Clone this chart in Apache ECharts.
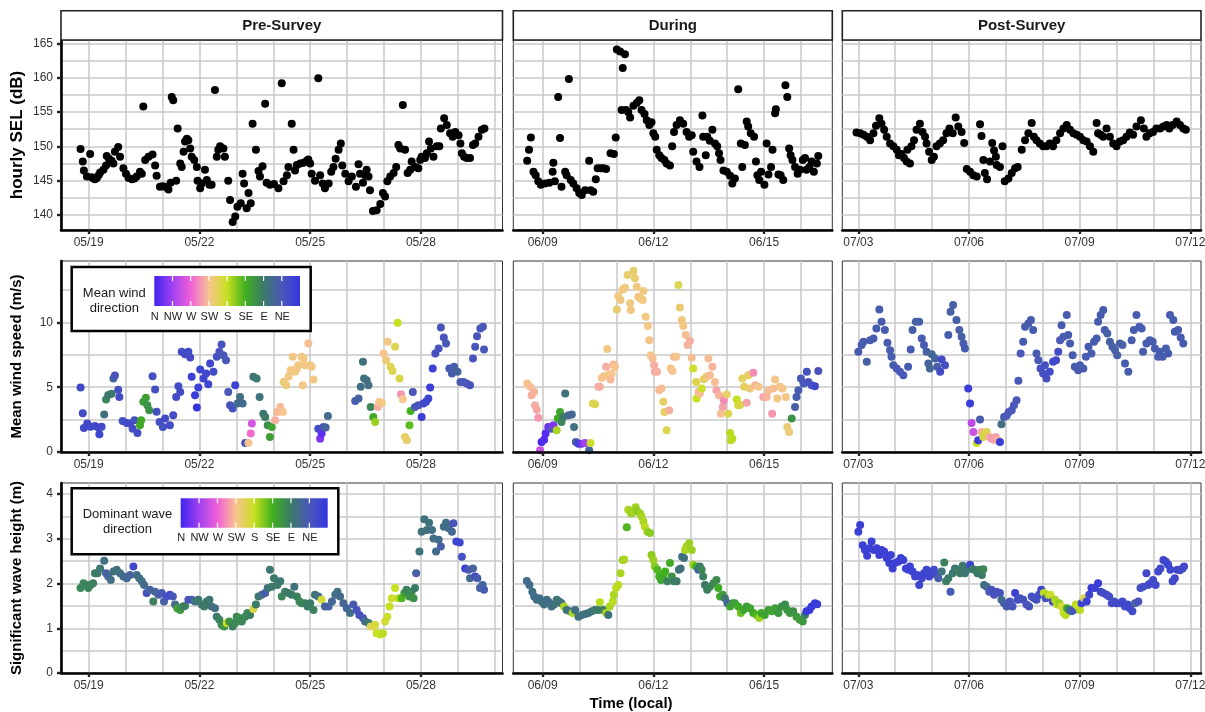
<!DOCTYPE html>
<html><head><meta charset="utf-8">
<script src="https://cdn.jsdelivr.net/npm/echarts@6/dist/echarts.min.js"></script>
<style>html,body{margin:0;padding:0;background:#fff}#c{width:1205px;height:712px}</style>
</head><body><div id="c"></div>
<script>
// ---------- labels ----------
const periods = ['Pre-Survey', 'During', 'Post-Survey'];
const preTicks = ['05/19', '05/22', '05/25', '05/28'];
const duringTicks = ['06/09', '06/12', '06/15'];
const postTicks = ['07/03', '07/06', '07/09', '07/12'];
const dirLabels = ['N', 'NW', 'W', 'SW', 'S', 'SE', 'E', 'NE'];
const selTicks = [140, 145, 150, 155, 160, 165];
const windTicks = [0, 5, 10];
const waveTicks = [0, 1, 2, 3, 4];
const yTitles = ['hourly SEL (dB)', 'Mean wind speed (m/s)', 'Significant wave height (m)'];
const xTitle = 'Time (local)';
const windLegendTitle = 'Mean wind\ndirection';
const waveLegendTitle = 'Dominant wave\ndirection';

// ---------- data: [days since first tick date, value] ----------
const selPre = [[-0.22,149.6],[-0.16,147.8],[-0.13,146.5],[-0.05,145.6],[0.04,148.9],[0.08,145.5],[0.13,145.3],[0.17,145.2],[0.22,145.4],[0.27,145.8],[0.31,146.2],[0.40,146.6],[0.47,147.2],[0.49,148.6],[0.55,148.2],[0.62,147.9],[0.67,147.5],[0.71,149.2],[0.80,149.9],[0.85,148.5],[0.94,146.8],[1.01,146.0],[1.08,145.4],[1.17,145.2],[1.24,145.3],[1.30,145.6],[1.39,146.3],[1.44,146.0],[1.48,155.8],[1.53,148.0],[1.62,148.5],[1.73,148.8],[1.80,147.2],[1.84,145.7],[1.93,144.1],[2.00,144.2],[2.07,144.1],[2.16,143.7],[2.22,144.7],[2.25,157.2],[2.29,156.7],[2.37,145.0],[2.41,152.6],[2.48,147.5],[2.52,147.0],[2.57,149.2],[2.61,150.7],[2.66,151.1],[2.70,150.9],[2.75,149.7],[2.79,148.5],[2.86,148.0],[2.93,147.0],[2.95,145.0],[3.02,143.9],[3.06,144.6],[3.15,146.6],[3.20,145.1],[3.27,144.4],[3.33,144.4],[3.42,158.2],[3.47,148.5],[3.51,149.5],[3.56,150.0],[3.65,149.7],[3.69,148.5],[3.78,145.0],[3.83,142.2],[3.90,139.0],[3.97,139.8],[4.03,141.2],[4.12,141.7],[4.17,146.0],[4.21,144.6],[4.28,141.0],[4.33,143.2],[4.39,141.7],[4.44,153.3],[4.53,149.5],[4.60,146.4],[4.64,145.6],[4.71,147.1],[4.78,156.2],[4.82,144.7],[4.91,144.4],[5.02,144.5],[5.14,143.9],[5.23,159.2],[5.28,144.9],[5.37,145.8],[5.41,147.0],[5.50,153.3],[5.55,149.5],[5.59,146.5],[5.64,147.3],[5.73,147.5],[5.82,147.6],[5.91,147.9],[5.95,148.1],[6.00,147.5],[6.04,146.0],[6.13,145.0],[6.22,159.9],[6.27,145.8],[6.34,144.6],[6.40,143.9],[6.50,144.6],[6.57,146.3],[6.63,147.0],[6.69,148.2],[6.77,149.5],[6.83,150.4],[6.87,147.2],[6.95,146.0],[7.04,144.9],[7.13,145.6],[7.24,144.1],[7.31,147.4],[7.35,146.0],[7.43,144.7],[7.49,145.8],[7.53,146.6],[7.58,145.6],[7.62,143.6],[7.70,140.6],[7.80,140.7],[7.90,141.6],[7.97,143.2],[8.03,142.7],[8.09,144.9],[8.17,145.6],[8.26,146.1],[8.33,147.0],[8.39,150.2],[8.44,149.7],[8.51,156.0],[8.57,149.5],[8.64,146.1],[8.71,146.6],[8.75,147.8],[8.84,147.0],[8.93,146.8],[8.98,148.0],[9.02,148.5],[9.11,148.3],[9.16,149.0],[9.22,150.7],[9.27,149.7],[9.34,148.5],[9.43,150.0],[9.50,150.0],[9.54,152.6],[9.63,154.1],[9.70,153.1],[9.79,151.9],[9.86,151.4],[9.93,152.1],[10.02,151.6],[10.07,150.4],[10.11,149.0],[10.17,148.5],[10.24,148.3],[10.33,148.3],[10.41,150.2],[10.47,150.4],[10.56,151.4],[10.65,152.4],[10.72,152.6]];
const selDuring = [[-0.42,147.9],[-0.37,149.5],[-0.32,151.3],[-0.25,146.3],[-0.19,145.8],[-0.12,144.9],[-0.05,144.4],[0.06,144.6],[0.18,144.7],[0.27,146.3],[0.29,147.6],[0.33,144.9],[0.42,157.2],[0.47,151.2],[0.51,144.1],[0.61,146.3],[0.65,145.8],[0.71,159.8],[0.76,145.1],[0.83,144.6],[0.92,143.9],[0.99,143.2],[1.06,142.9],[1.15,143.6],[1.26,147.9],[1.30,143.6],[1.37,143.4],[1.44,145.2],[1.49,146.8],[1.58,146.8],[1.65,146.8],[1.72,146.7],[1.84,149.0],[1.93,148.9],[1.98,151.3],[2.01,164.1],[2.10,163.8],[2.17,161.4],[2.23,163.4],[2.14,155.3],[2.26,155.3],[2.32,155.0],[2.37,154.2],[2.46,155.9],[2.55,156.3],[2.62,156.7],[2.68,155.3],[2.76,154.7],[2.82,153.8],[2.89,153.1],[2.95,153.5],[3.00,151.9],[3.05,151.4],[3.09,149.5],[3.16,148.7],[3.22,148.3],[3.30,148.0],[3.36,147.5],[3.45,147.2],[3.51,150.0],[3.56,152.1],[3.63,153.1],[3.72,153.8],[3.81,153.3],[3.90,152.1],[3.97,151.4],[4.04,151.6],[4.08,149.2],[4.17,147.8],[4.25,147.0],[4.33,154.5],[4.35,151.4],[4.42,148.7],[4.46,151.4],[4.53,150.8],[4.60,152.4],[4.67,150.4],[4.73,150.0],[4.78,149.0],[4.82,148.0],[4.90,146.5],[4.99,146.3],[5.08,145.7],[5.14,144.6],[5.21,145.3],[5.30,158.3],[5.37,150.4],[5.41,147.0],[5.48,150.2],[5.53,153.6],[5.57,152.9],[5.64,151.9],[5.73,151.4],[5.78,147.8],[5.82,145.8],[5.87,145.1],[5.92,146.3],[6.01,144.4],[6.07,150.4],[6.12,145.9],[6.19,147.0],[6.23,149.5],[6.30,154.8],[6.32,155.4],[6.39,145.9],[6.45,145.8],[6.52,145.1],[6.58,158.9],[6.63,157.2],[6.68,149.7],[6.72,148.7],[6.77,148.0],[6.84,147.0],[6.91,146.0],[6.97,146.6],[7.05,148.0],[7.11,148.3],[7.15,146.6],[7.23,147.0],[7.29,147.8],[7.35,146.3],[7.43,147.5],[7.47,148.6]];
const selPost = [[-0.05,152.0],[0.05,151.9],[0.14,151.7],[0.23,151.4],[0.32,150.9],[0.41,151.9],[0.48,153.0],[0.57,154.1],[0.63,153.3],[0.70,152.4],[0.77,151.4],[0.86,150.4],[0.95,150.0],[1.04,149.5],[1.10,148.7],[1.17,148.9],[1.24,148.3],[1.31,147.8],[1.40,147.5],[1.33,149.5],[1.44,150.0],[1.51,150.9],[1.58,152.4],[1.67,153.3],[1.74,152.1],[1.81,151.4],[1.85,150.4],[1.92,149.2],[1.99,148.0],[2.05,148.5],[2.12,150.0],[2.21,150.4],[2.30,150.9],[2.39,151.9],[2.47,152.6],[2.56,151.9],[2.64,154.2],[2.71,152.9],[2.80,152.1],[2.87,150.5],[2.94,146.7],[3.03,146.3],[3.12,145.8],[3.21,145.6],[3.30,153.2],[3.34,151.5],[3.39,148.0],[3.43,146.1],[3.49,145.2],[3.57,147.8],[3.63,150.5],[3.68,149.4],[3.73,148.5],[3.75,147.3],[3.84,147.0],[3.91,150.0],[3.97,144.9],[4.07,145.3],[4.16,146.1],[4.25,146.8],[4.32,147.0],[4.43,149.5],[4.52,150.9],[4.61,151.9],[4.70,153.4],[4.76,151.4],[4.83,150.9],[4.92,150.4],[5.01,150.0],[5.10,150.0],[5.19,150.4],[5.28,150.0],[5.37,150.9],[5.47,151.9],[5.56,152.6],[5.65,153.1],[5.74,152.4],[5.83,151.9],[5.92,151.7],[6.01,151.4],[6.10,150.9],[6.19,150.7],[6.28,150.0],[6.37,149.2],[6.46,153.4],[6.50,151.9],[6.57,151.7],[6.64,151.4],[6.73,152.6],[6.82,151.4],[6.91,150.4],[7.00,150.0],[7.09,150.7],[7.18,150.9],[7.27,151.4],[7.36,152.0],[7.45,151.7],[7.54,152.9],[7.66,153.8],[7.74,152.6],[7.81,151.4],[7.90,151.9],[7.99,152.1],[8.08,152.6],[8.18,152.6],[8.27,152.9],[8.36,153.1],[8.43,152.6],[8.52,153.1],[8.63,153.6],[8.72,153.1],[8.81,152.6],[8.88,152.4]];

// ---------- data: [days, speed m/s, direction deg (-1 = missing)] ----------
const windPre = [[-0.22,4.97,25],[-0.16,3.0,30],[-0.13,1.86,25],[-0.04,2.2,25],[0.05,1.95,25],[0.17,2.0,25],[0.26,1.9,25],[0.35,1.95,25],[0.29,1.37,20],[0.42,2.9,80],[0.47,4.05,100],[0.53,4.4,85],[0.62,4.5,90],[0.67,5.67,60],[0.71,5.9,40],[0.80,4.8,35],[0.83,4.25,30],[0.92,2.4,35],[1.03,2.24,30],[1.12,2.2,30],[1.19,1.8,30],[1.24,2.45,35],[1.32,1.47,30],[1.39,2.06,130],[1.42,2.45,130],[1.48,3.87,120],[1.55,4.18,120],[1.59,3.6,110],[1.64,3.22,110],[1.73,5.85,35],[1.80,4.82,35],[1.84,3.1,35],[1.92,2.32,35],[2.01,1.93,35],[2.07,2.58,30],[2.20,2.06,30],[2.29,2.84,30],[2.37,4.25,30],[2.43,5.08,30],[2.48,4.64,30],[2.52,7.73,30],[2.61,7.55,30],[2.70,7.73,30],[2.75,7.3,30],[2.79,5.8,15],[2.88,4.38,10],[2.93,3.43,-1],[2.97,4.97,15],[3.02,6.37,20],[3.11,5.67,20],[3.18,6.06,25],[3.24,5.23,20],[3.29,6.83,25],[3.38,6.19,30],[3.47,7.35,35],[3.54,7.73,40],[3.60,8.3,40],[3.65,7.47,45],[3.72,7.09,45],[3.78,4.64,45],[3.83,3.6,40],[3.90,3.35,35],[3.97,5.15,15],[4.03,3.74,70],[4.10,4.25,75],[4.17,3.74,70],[4.24,0.7,40],[4.33,0.7,225],[4.39,1.42,265],[4.42,2.19,285],[4.46,5.8,85],[4.55,5.67,85],[4.63,4.25,80],[4.73,2.96,85],[4.78,2.7,90],[4.85,2.06,105],[4.91,1.16,120],[4.96,1.93,125],[5.05,2.45,235],[5.11,3.09,230],[5.19,3.48,230],[5.26,3.09,225],[5.28,5.41,215],[5.35,5.15,215],[5.41,5.8,220],[5.47,6.31,220],[5.53,7.35,220],[5.59,6.19,220],[5.64,6.44,220],[5.68,6.7,220],[5.77,7.35,220],[5.82,7.22,220],[5.80,5.15,220],[5.86,6.7,220],[5.95,8.38,228],[6.0,6.7,220],[6.04,6.57,220],[6.09,5.59,220],[6.22,1.8,30],[6.27,1.03,330],[6.31,1.42,345],[6.36,1.93,40],[6.42,1.9,60],[6.48,2.78,70],[7.22,3.94,50],[7.31,4.12,60],[7.37,5.03,75],[7.43,6.96,80],[7.46,5.67,80],[7.53,5.54,75],[7.58,5.15,75],[7.64,3.48,100],[7.71,2.7,130],[7.76,2.32,165],[7.83,3.48,235],[7.87,3.87,225],[7.94,3.79,220],[7.99,7.6,225],[8.06,7.09,215],[8.10,8.5,220],[8.18,6.57,200],[8.23,6.26,200],[8.30,8.12,200],[8.37,9.97,180],[8.42,5.67,195],[8.46,4.46,245],[8.51,4.07,225],[8.57,1.16,205],[8.62,0.9,210],[8.69,2.06,145],[8.72,3.17,135],[8.78,4.64,45],[8.84,3.48,45],[8.93,3.6,40],[9.02,2.7,15],[9.07,3.74,25],[9.14,3.87,25],[9.20,4.12,20],[9.25,4.97,10],[9.32,6.44,15],[9.39,7.6,35],[9.48,7.99,40],[9.54,9.61,40],[9.62,8.84,40],[9.68,8.38,45],[9.77,6.44,45],[9.84,6.06,50],[9.90,6.57,55],[9.99,6.19,60],[10.07,5.41,50],[10.15,5.41,45],[10.24,5.28,45],[10.33,5.15,40],[10.41,7.22,40],[10.47,8.12,40],[10.52,8.94,40],[10.61,9.54,40],[10.68,9.66,45],[10.71,7.91,45]];
const windDuring = [[-0.42,5.28,225],[-0.34,5.03,228],[-0.30,4.38,235],[-0.23,4.64,232],[-0.21,3.6,235],[-0.16,3.27,238],[-0.12,2.65,245],[-0.07,0.13,290],[-0.03,0.77,355],[0.04,0.95,350],[0.08,1.42,350],[0.15,1.93,340],[0.24,1.8,45],[0.29,2.06,330],[0.38,1.68,170],[0.41,2.58,130],[0.47,3.09,125],[0.51,2.32,100],[0.56,2.7,90],[0.61,4.51,80],[0.70,2.84,70],[0.79,2.89,65],[0.85,1.93,75],[0.90,0.77,55],[0.97,0.64,20],[1.06,0.64,335],[1.15,0.7,310],[1.26,0.13,60],[1.30,0.7,185],[1.36,3.74,200],[1.42,3.69,200],[1.51,5.03,235],[1.55,5.03,235],[1.60,5.72,225],[1.66,5.85,225],[1.72,6.57,235],[1.75,7.94,220],[1.81,5.98,215],[1.84,5.59,230],[1.87,6.06,225],[1.92,6.75,230],[1.96,6.57,225],[2.01,11.0,212],[2.05,12.04,218],[2.11,11.73,218],[2.17,12.55,218],[2.23,12.68,218],[2.30,13.66,212],[2.37,11.47,218],[2.39,10.95,218],[2.46,13.97,210],[2.50,13.4,212],[2.55,12.76,218],[2.59,11.98,218],[2.64,11.86,218],[2.71,11.73,218],[2.73,12.42,218],[2.79,10.44,220],[2.85,9.72,220],[2.89,8.63,222],[2.93,7.47,225],[2.98,7.22,228],[3.02,6.7,235],[3.04,6.19,235],[3.10,6.2,235],[3.16,4.77,228],[3.22,4.9,228],[3.27,3.87,208],[3.30,3.09,208],[3.36,1.68,200],[3.43,3.22,235],[3.47,6.44,220],[3.52,6.26,225],[3.56,7.35,228],[3.62,7.35,225],[3.68,12.89,200],[3.72,11.16,212],[3.77,10.18,218],[3.81,9.72,220],[3.88,9.02,228],[3.93,8.25,232],[3.99,8.58,235],[4.04,7.27,228],[4.08,6.44,185],[4.16,5.41,200],[4.17,4.12,180],[4.22,4.64,228],[4.26,4.51,228],[4.31,4.9,185],[4.37,5.62,205],[4.44,5.8,215],[4.49,7.22,228],[4.53,5.93,228],[4.60,6.57,232],[4.67,5.41,228],[4.71,4.77,240],[4.78,4.38,232],[4.83,2.96,228],[4.88,3.48,240],[4.91,4.0,250],[4.99,4.43,208],[5.03,2.96,198],[5.08,1.47,175],[5.10,0.9,175],[5.14,1.03,175],[5.26,4.05,180],[5.30,3.6,188],[5.35,3.62,195],[5.41,5.67,205],[5.46,5.03,205],[5.53,3.81,240],[5.57,5.93,205],[5.62,4.9,215],[5.71,6.11,250],[5.76,5.15,232],[5.85,5.03,222],[5.98,4.25,240],[6.07,4.25,232],[6.12,4.77,228],[6.22,2.96,245],[6.25,4.9,228],[6.30,5.59,222],[6.36,4.12,218],[6.43,5.03,222],[6.50,4.9,222],[6.59,4.25,222],[6.63,1.93,215],[6.68,1.55,215],[6.75,2.58,110],[6.84,3.48,55],[6.88,4.25,50],[6.93,4.77,50],[7.00,5.67,45],[7.07,5.28,45],[7.16,6.19,35],[7.20,5.41,40],[7.29,5.15,35],[7.38,5.08,25],[7.47,6.26,40]];
const windPost = [[0.0,7.73,50],[0.09,8.25,50],[0.14,8.5,50],[0.23,6.96,55],[0.32,8.63,50],[0.41,8.76,50],[0.49,9.54,50],[0.57,11.0,50],[0.63,10.05,50],[0.72,9.41,50],[0.79,8.43,50],[0.86,7.86,50],[0.90,7.35,50],[0.95,6.7,50],[1.04,6.44,45],[1.13,6.19,45],[1.22,5.93,45],[1.35,6.57,50],[1.42,7.91,50],[1.47,9.41,55],[1.56,10.05,55],[1.65,10.05,55],[1.72,8.76,50],[1.78,8.25,50],[1.85,7.73,55],[1.90,6.83,60],[1.94,6.44,65],[1.99,7.55,65],[2.08,7.22,60],[2.14,6.57,55],[2.22,6.19,30],[2.26,7.14,30],[2.35,6.7,35],[2.44,9.02,50],[2.50,10.82,55],[2.57,11.34,55],[2.66,10.18,55],[2.74,9.41,55],[2.80,8.89,55],[2.85,8.38,50],[2.89,7.99,50],[2.98,4.9,10],[3.03,3.74,10],[3.07,2.24,300],[3.12,1.55,290],[3.21,0.7,180],[3.25,0.9,10],[3.30,2.5,50],[3.34,1.55,235],[3.39,1.16,200],[3.43,1.42,185],[3.48,1.55,200],[3.55,1.16,235],[3.61,1.03,245],[3.68,0.95,240],[3.73,1.16,240],[3.78,0.9,235],[3.84,0.77,10],[3.88,2.14,75],[3.95,2.7,50],[4.02,2.8,45],[4.08,3.09,45],[4.16,3.22,45],[4.22,3.6,45],[4.29,4.0,45],[4.34,5.49,45],[4.40,7.6,45],[4.47,8.5,50],[4.52,9.66,50],[4.61,9.92,50],[4.68,10.18,50],[4.74,9.41,50],[4.83,7.6,50],[4.88,7.09,45],[4.94,6.44,35],[5.01,6.06,35],[5.06,6.7,35],[5.10,5.67,35],[5.19,6.19,30],[5.28,6.96,25],[5.36,7.09,25],[5.42,7.73,30],[5.47,8.63,45],[5.51,9.79,50],[5.56,8.89,50],[5.65,10.57,50],[5.69,9.02,50],[5.74,8.38,50],[5.81,7.47,50],[5.87,6.57,50],[5.96,6.31,50],[6.01,6.7,50],[6.10,6.44,50],[6.17,7.35,50],[6.24,8.12,50],[6.32,7.6,50],[6.39,8.5,50],[6.46,8.76,50],[6.50,10.05,50],[6.57,10.57,50],[6.64,10.95,50],[6.68,9.41,50],[6.75,9.15,55],[6.82,8.5,55],[6.89,8.12,55],[6.96,7.86,55],[7.02,7.47,55],[7.09,8.38,55],[7.16,8.25,55],[7.23,6.83,50],[7.32,6.19,50],[7.41,8.63,50],[7.47,9.41,50],[7.54,10.57,50],[7.62,9.66,50],[7.68,9.54,50],[7.72,7.73,50],[7.81,8.38,50],[7.90,8.63,50],[7.98,8.5,50],[8.04,7.99,50],[8.13,7.35,50],[8.17,7.73,50],[8.25,7.35,50],[8.34,7.99,50],[8.40,7.6,50],[8.45,10.57,50],[8.54,10.18,50],[8.58,9.28,50],[8.67,9.41,50],[8.74,8.84,50],[8.81,8.38,50]];

// ---------- data: [days, wave height m, direction deg] ----------
const wavePre = [[-0.22,1.90,100],[-0.14,2.01,100],[-0.07,1.97,95],[-0.01,1.90,100],[0.05,1.97,95],[0.12,2.01,95],[0.17,2.23,90],[0.24,2.23,90],[0.31,2.34,85],[0.42,2.51,75],[0.47,2.23,55],[0.53,2.16,60],[0.60,2.08,75],[0.67,2.27,80],[0.76,2.31,80],[0.85,2.23,75],[0.94,2.16,70],[1.03,2.12,65],[1.12,2.19,60],[1.21,2.38,25],[1.30,2.19,70],[1.37,2.12,75],[1.44,2.05,75],[1.50,1.97,70],[1.57,1.79,35],[1.66,1.86,60],[1.75,1.60,95],[1.80,1.82,65],[1.89,1.75,60],[1.98,1.79,45],[2.04,1.60,55],[2.11,1.71,35],[2.20,1.75,30],[2.28,1.71,45],[2.34,1.53,70],[2.40,1.45,120],[2.48,1.41,115],[2.55,1.49,100],[2.61,1.50,95],[2.70,1.64,40],[2.79,1.64,45],[2.88,1.60,80],[2.97,1.64,85],[3.06,1.53,85],[3.13,1.49,90],[3.20,1.60,90],[3.27,1.64,85],[3.33,1.49,80],[3.42,1.45,75],[3.47,1.26,85],[3.54,1.19,95],[3.60,1.08,100],[3.67,1.04,110],[3.74,1.12,180],[3.81,1.15,110],[3.90,1.04,95],[3.97,1.12,100],[4.01,1.26,100],[4.08,1.23,105],[4.15,1.15,100],[4.24,1.26,100],[4.30,1.34,100],[4.37,1.30,95],[4.46,1.43,195],[4.53,1.53,90],[4.60,1.71,85],[4.69,1.75,80],[4.78,1.79,50],[4.85,1.90,80],[4.91,2.31,85],[4.96,1.93,85],[5.02,2.12,90],[5.11,1.97,90],[5.19,2.05,85],[5.23,1.71,100],[5.32,1.82,95],[5.41,1.79,90],[5.50,1.75,90],[5.57,1.93,80],[5.64,1.71,95],[5.71,1.60,100],[5.77,1.56,100],[5.86,1.56,95],[5.93,1.49,90],[6.00,1.56,90],[6.09,1.41,95],[6.13,1.75,80],[6.22,1.71,75],[6.31,1.64,190],[6.40,1.49,60],[6.50,1.49,55],[6.59,1.60,65],[6.68,1.75,70],[6.74,1.82,75],[6.81,1.71,70],[6.90,1.56,65],[6.99,1.45,60],[7.08,1.34,75],[7.17,1.53,50],[7.26,1.41,40],[7.33,1.30,35],[7.43,1.23,45],[7.49,1.15,70],[7.58,1.12,85],[7.64,1.04,200],[7.71,1.04,205],[7.76,1.08,190],[7.80,0.89,180],[7.90,0.86,180],[7.97,0.89,175],[8.03,1.15,190],[8.09,1.26,185],[8.15,1.49,180],[8.21,1.67,185],[8.30,1.90,180],[8.39,1.67,175],[8.48,1.67,140],[8.55,1.79,120],[8.61,1.86,95],[8.69,1.71,110],[8.75,1.82,105],[8.80,1.67,110],[8.84,1.90,90],[8.87,2.23,55],[8.96,2.72,80],[9.02,3.16,80],[9.09,3.44,80],[9.16,3.20,80],[9.22,3.36,80],[9.30,3.20,75],[9.34,3.01,75],[9.41,2.72,70],[9.48,2.98,70],[9.54,2.83,55],[9.62,3.27,75],[9.68,3.36,75],[9.75,3.24,70],[9.84,3.16,65],[9.88,3.35,40],[9.96,2.94,15],[10.05,2.92,20],[10.11,2.60,35],[10.20,2.34,15],[10.29,2.31,45],[10.33,2.12,70],[10.41,2.34,60],[10.47,2.16,25],[10.53,2.12,50],[10.60,1.90,55],[10.67,1.97,60],[10.71,1.86,50]];
const waveDuring = [[-0.43,2.06,70],[-0.36,1.97,70],[-0.28,1.82,75],[-0.23,1.71,70],[-0.16,1.64,75],[-0.09,1.67,70],[-0.03,1.60,75],[0.04,1.53,80],[0.11,1.64,75],[0.17,1.58,70],[0.24,1.49,75],[0.31,1.53,80],[0.38,1.64,85],[0.45,1.60,80],[0.51,1.56,80],[0.58,1.49,170],[0.65,1.41,80],[0.74,1.38,75],[0.81,1.34,170],[0.88,1.41,75],[0.97,1.26,75],[1.06,1.30,80],[1.15,1.32,75],[1.24,1.34,80],[1.33,1.38,80],[1.42,1.41,85],[1.51,1.41,90],[1.55,1.58,175],[1.64,1.41,95],[1.72,1.34,170],[1.78,1.30,80],[1.82,1.49,170],[1.90,1.60,175],[1.93,1.75,170],[1.99,1.90,175],[2.05,1.97,175],[2.11,2.23,170],[2.17,2.53,165],[2.21,2.54,170],[2.28,3.26,140],[2.32,3.65,170],[2.40,3.57,165],[2.46,3.61,170],[2.52,3.71,165],[2.57,3.61,160],[2.64,3.57,165],[2.68,3.50,170],[2.73,3.39,170],[2.77,3.27,175],[2.84,3.16,165],[2.91,3.13,160],[2.95,2.64,160],[3.00,2.53,165],[3.04,2.38,160],[3.11,2.31,140],[3.16,2.16,135],[3.21,2.08,125],[3.27,2.19,130],[3.32,2.27,135],[3.38,2.05,95],[3.45,2.46,130],[3.50,2.16,110],[3.56,2.05,95],[3.63,2.05,90],[3.69,2.31,85],[3.74,2.34,80],[3.78,2.60,75],[3.83,2.57,80],[3.86,2.75,170],[3.90,2.83,170],[3.97,2.90,165],[4.04,2.75,165],[4.08,2.42,165],[4.16,2.38,135],[4.22,2.31,50],[4.26,2.38,90],[4.31,2.31,100],[4.35,2.16,95],[4.40,1.97,90],[4.46,1.86,95],[4.53,1.93,100],[4.63,2.01,100],[4.71,2.08,105],[4.76,1.90,130],[4.81,1.71,130],[4.88,1.75,120],[4.94,1.67,85],[5.01,1.56,60],[5.08,1.49,125],[5.15,1.56,115],[5.21,1.56,120],[5.30,1.49,130],[5.37,1.34,150],[5.44,1.41,125],[5.53,1.49,120],[5.62,1.45,125],[5.71,1.34,130],[5.80,1.30,140],[5.87,1.23,165],[5.93,1.34,130],[6.02,1.30,125],[6.12,1.41,120],[6.21,1.38,125],[6.30,1.45,120],[6.39,1.34,115],[6.48,1.49,110],[6.57,1.53,105],[6.63,1.41,110],[6.70,1.34,115],[6.79,1.38,110],[6.88,1.26,115],[6.97,1.19,120],[7.05,1.15,115],[7.11,1.30,95],[7.15,1.38,10],[7.23,1.41,5],[7.29,1.49,5],[7.38,1.56,5],[7.44,1.54,10]];
const wavePost = [[0.0,3.16,15],[0.05,3.31,15],[0.12,2.86,15],[0.18,2.75,15],[0.24,2.62,15],[0.30,2.79,15],[0.36,2.94,15],[0.42,2.75,15],[0.50,2.79,15],[0.57,2.64,15],[0.63,2.75,15],[0.70,2.72,15],[0.77,2.57,15],[0.84,2.46,15],[0.88,2.64,15],[0.93,2.34,15],[0.99,2.46,15],[1.08,2.49,15],[1.15,2.57,15],[1.22,2.53,15],[1.29,2.34,15],[1.36,2.31,15],[1.40,2.38,15],[1.47,2.27,15],[1.54,2.16,15],[1.60,2.19,20],[1.65,1.97,20],[1.72,2.12,20],[1.78,2.23,20],[1.85,2.31,20],[1.92,2.16,20],[1.99,2.23,20],[2.05,2.31,25],[2.12,2.19,30],[2.17,2.12,50],[2.26,2.27,80],[2.33,2.47,95],[2.38,2.05,95],[2.44,2.12,90],[2.50,1.82,45],[2.56,2.23,85],[2.62,2.34,85],[2.69,2.31,90],[2.76,2.23,90],[2.83,2.40,90],[2.89,2.23,85],[2.95,2.32,85],[3.03,2.42,20],[3.10,2.32,85],[3.16,2.31,90],[3.23,2.23,90],[3.30,2.31,95],[3.35,2.19,90],[3.39,2.32,100],[3.41,1.97,75],[3.48,1.93,70],[3.55,1.82,45],[3.61,1.86,40],[3.68,1.75,40],[3.75,1.82,35],[3.84,1.79,40],[3.88,1.64,70],[3.95,1.56,60],[4.02,1.49,50],[4.11,1.60,40],[4.18,1.49,40],[4.25,1.79,15],[4.32,1.64,35],[4.38,1.67,35],[4.47,1.64,35],[4.56,1.53,40],[4.63,1.49,40],[4.70,1.71,35],[4.76,1.67,35],[4.83,1.64,35],[4.90,1.75,30],[4.96,1.86,20],[5.03,1.79,175],[5.08,1.67,40],[5.15,1.75,170],[5.21,1.75,185],[5.27,1.60,30],[5.33,1.64,170],[5.39,1.53,175],[5.45,1.56,165],[5.51,1.49,190],[5.56,1.35,185],[5.62,1.30,175],[5.66,1.45,130],[5.72,1.41,80],[5.78,1.38,60],[5.84,1.41,40],[5.90,1.53,175],[5.96,1.49,180],[6.01,1.41,175],[6.05,1.56,15],[6.12,1.67,200],[6.19,1.60,15],[6.26,1.75,20],[6.32,1.90,10],[6.41,1.90,15],[6.50,2.01,10],[6.57,1.82,25],[6.64,1.79,30],[6.73,1.75,30],[6.80,1.71,30],[6.87,1.56,30],[6.93,1.60,30],[7.00,1.56,30],[7.09,1.56,30],[7.16,1.60,25],[7.23,1.49,25],[7.30,1.53,25],[7.36,1.45,25],[7.43,1.38,25],[7.50,1.56,60],[7.59,1.60,40],[7.65,1.90,35],[7.72,1.93,30],[7.81,2.23,25],[7.86,1.97,30],[7.92,2.01,25],[7.99,2.08,25],[8.06,1.97,25],[8.13,2.27,25],[8.19,2.34,25],[8.27,2.53,25],[8.34,2.49,20],[8.40,2.42,20],[8.46,2.31,20],[8.52,2.05,25],[8.58,2.12,25],[8.65,2.31,25],[8.72,2.30,25],[8.79,2.34,25],[8.83,2.38,25]];

// ---------- style / layout ----------
const FONT = 'Liberation Sans, Arial, Helvetica, sans-serif';
const GRID_COLOR = '#c9c9c9';
const TEXT_COLOR = '#333333';
// colour ramp by direction, from 0 deg (N) to 360 deg (N)
const dirColors = ['#3535e0', '#4a58b8', '#3c7a68', '#40b020', '#c8e020', '#f8c490', '#f060d8', '#a040f0', '#3f25f0'];

const cols = [
  {left: 61, width: 441.5, min: -0.75, max: 11.21, days: 11, ticks: preTicks},
  {left: 513.3, width: 319, min: -0.796, max: 7.85, days: 7, ticks: duringTicks},
  {left: 842.3, width: 358.7, min: -0.434, max: 9.29, days: 9, ticks: postTicks}
];
const rows = [
  {top: 40, height: 190, min: 137.82, max: 165.48, step: 2.5, labels: selTicks, data: [selPre, selDuring, selPost], colored: false},
  {top: 261, height: 191, min: 0, max: 14.74, step: 2.5, labels: windTicks, data: [windPre, windDuring, windPost], colored: true},
  {top: 483, height: 190, min: 0, max: 4.25, step: 0.5, labels: waveTicks, data: [wavePre, waveDuring, wavePost], colored: true}
];

function steps(lo, hi, st) {
  const out = [];
  for (let v = Math.ceil(lo / st - 1e-9) * st; v <= hi + 1e-9; v += st) out.push(+v.toFixed(4));
  return out;
}

const grid = [], xAxis = [], yAxis = [], series = [];
const coloredSeries = [];
rows.forEach((r, ri) => {
  cols.forEach((c, ci) => {
    const g = ri * 3 + ci;
    grid.push({left: c.left, top: r.top, width: c.width, height: r.height, show: true,
      borderColor: '#333', borderWidth: 1, backgroundColor: '#fff', containLabel: false, outerBoundsMode: 'none'});
    const dayLines = steps(0, c.days, 1);
    const tickVals = c.ticks.map((_, i) => i * 3);
    xAxis.push({gridIndex: g, type: 'value', position: 'bottom', min: c.min, max: c.max,
      axisLine: {show: false, onZero: false}, axisTick: {show: false, customValues: dayLines},
      axisLabel: {show: false}, splitLine: {show: true, lineStyle: {color: GRID_COLOR, width: 1.5}}, z: 1});
    xAxis.push({gridIndex: g, type: 'value', position: 'bottom', min: c.min, max: c.max,
      axisLine: {show: true, onZero: false, lineStyle: {color: '#000', width: 2.6}},
      axisTick: {show: true, customValues: tickVals, length: 4, lineStyle: {color: '#222', width: 2.4}},
      axisLabel: {show: true, customValues: tickVals, margin: 7, fontSize: 12, fontFamily: FONT, color: TEXT_COLOR,
        formatter: v => c.ticks[Math.round(v / 3)]},
      splitLine: {show: false}, z: 5});
    const yLines = steps(r.min, r.max, r.step);
    yAxis.push({gridIndex: g, type: 'value', position: 'left', min: r.min, max: r.max,
      axisLine: {show: false, onZero: false}, axisTick: {show: false, customValues: yLines},
      axisLabel: {show: false}, splitLine: {show: true, lineStyle: {color: GRID_COLOR, width: 1.5}}, z: 1});
    const first = ci === 0;
    yAxis.push({gridIndex: g, type: 'value', position: 'left', min: r.min, max: r.max,
      axisLine: {show: first, onZero: false, lineStyle: {color: '#000', width: 2.6}},
      axisTick: {show: first, customValues: r.labels, length: 4, lineStyle: {color: '#222', width: 2.4}},
      axisLabel: {show: first, customValues: r.labels, margin: 8, fontSize: 12, fontFamily: FONT, color: TEXT_COLOR},
      splitLine: {show: false}, z: 5});
    const s = {type: 'scatter', xAxisIndex: 2 * g, yAxisIndex: 2 * g, data: r.data[ci], symbol: 'circle',
      symbolSize: 8, silent: true, animation: false, z: 3,
      itemStyle: {opacity: 1, borderWidth: 0}};
    if (!r.colored) s.itemStyle.color = '#000';
    else coloredSeries.push(series.length);
    series.push(s);
  });
});

const graphic = [];
cols.forEach((c, ci) => {
  graphic.push({type: 'rect', shape: {x: c.left, y: 10.7, width: c.width, height: 29.3}, z: 50,
    style: {fill: '#fff', stroke: '#222', lineWidth: 1.6}});
  graphic.push({type: 'text', x: c.left + c.width / 2, y: 25.6, z: 51,
    style: {text: periods[ci], fill: '#1a1a1a', font: 'bold 15px ' + FONT, textAlign: 'center', textVerticalAlign: 'middle'}});
});
rows.forEach((r, ri) => {
  graphic.push({type: 'text', x: 17, y: r.top + r.height / 2, rotation: Math.PI / 2, z: 51,
    style: {text: yTitles[ri], fill: '#000', font: (ri === 0 ? 'bold 17px ' : 'bold 15px ') + FONT, textAlign: 'center', textVerticalAlign: 'middle'}});
});
graphic.push({type: 'text', x: 631, y: 704, z: 51,
  style: {text: xTitle, fill: '#000', font: 'bold 15px ' + FONT, textAlign: 'center', textVerticalAlign: 'middle'}});

function addLegend(box, bar, labelY, title, tx, ty) {
  graphic.push({type: 'rect', shape: box, z: 60, style: {fill: '#fff', stroke: '#000', lineWidth: 2.5}});
  const stops = dirColors.slice().reverse().map((col, i, a) => ({offset: i / (a.length - 1), color: col}));
  graphic.push({type: 'rect', shape: bar, z: 61,
    style: {fill: new echarts.graphic.LinearGradient(0, 0, 1, 0, stops)}});
  const stepW = bar.width / 8;
  for (let k = 1; k < 8; k++) {
    const x = bar.x + k * stepW;
    graphic.push({type: 'line', z: 62, shape: {x1: x, y1: bar.y, x2: x, y2: bar.y + 5}, style: {stroke: '#fff', lineWidth: 1.2}});
    graphic.push({type: 'line', z: 62, shape: {x1: x, y1: bar.y + bar.height - 5, x2: x, y2: bar.y + bar.height}, style: {stroke: '#fff', lineWidth: 1.2}});
  }
  dirLabels.forEach((lab, k) => {
    graphic.push({type: 'text', z: 62, x: bar.x + k * stepW + 0.5, y: labelY,
      style: {text: lab, fill: '#222', font: '11px ' + FONT, textAlign: 'center', textVerticalAlign: 'middle'}});
  });
  graphic.push({type: 'text', z: 62, x: tx, y: ty,
    style: {text: title, fill: '#1a1a1a', font: '13px ' + FONT, textAlign: 'center', textVerticalAlign: 'middle', lineHeight: 14.5}});
}
addLegend({x: 71.7, y: 267, width: 239, height: 64}, {x: 154.3, y: 276, width: 145.7, height: 30}, 316.7, windLegendTitle, 114.3, 300.8);
addLegend({x: 71.7, y: 488.3, width: 266.6, height: 66}, {x: 180.7, y: 498.3, width: 147, height: 29.4}, 537.8, waveLegendTitle, 127.5, 521.7);

const chart = echarts.init(document.getElementById('c'), null, {renderer: 'canvas'});
chart.setOption({
  backgroundColor: '#fff',
  animation: false,
  textStyle: {fontFamily: FONT},
  grid, xAxis, yAxis, series, graphic,
  visualMap: [{type: 'continuous', show: false, seriesIndex: coloredSeries, dimension: 2, min: 0, max: 360,
    inRange: {color: dirColors}, outOfRange: {color: '#808080'}}]
});
</script>
</body></html>
